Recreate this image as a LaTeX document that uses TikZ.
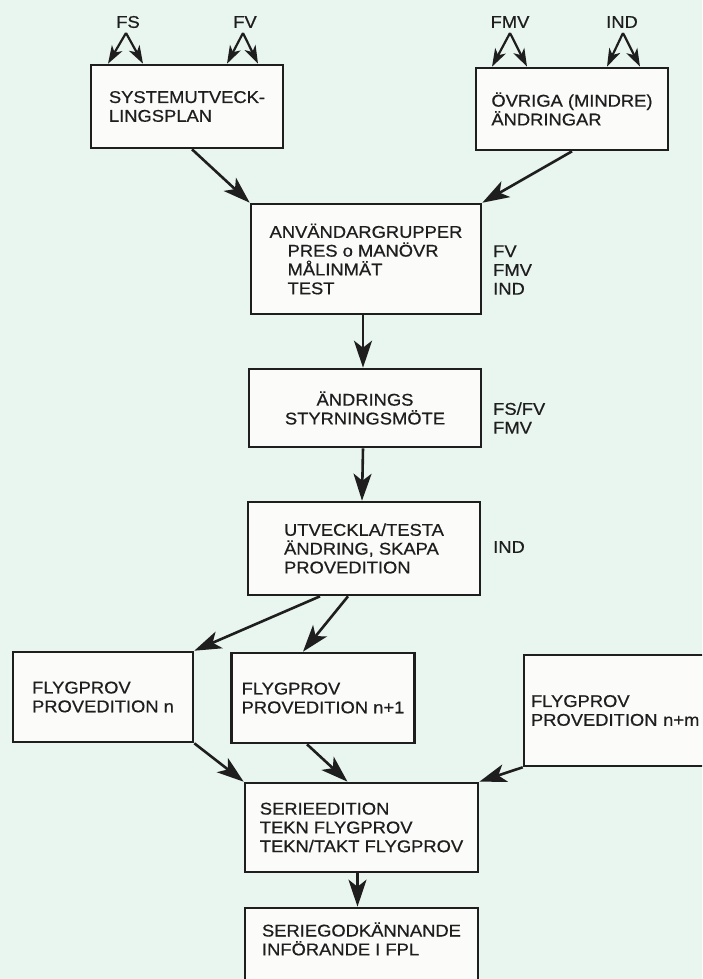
\documentclass[tikz,border=0pt]{standalone}
\usepackage{fontspec}
\setmainfont{Liberation Sans}[FakeStretch=1.08,FakeBold=0.6]
\usetikzlibrary{arrows.meta}
\definecolor{paper}{RGB}{233,245,239}
\definecolor{boxfill}{RGB}{251,252,250}
\definecolor{ink}{RGB}{30,30,30}
\begin{document}
\begin{tikzpicture}[x=1pt,y=-1pt,
    font=\fontsize{17}{18.8}\selectfont,
    box/.style={draw=ink,line width=2.6pt,fill=boxfill,text=ink,align=left,minimum height=#1},
    lbl/.style={text=ink,align=left,inner sep=0pt},
    arr/.style={ink,line width=2.6pt,-{Stealth[length=27pt,width=18pt,inset=7pt]}},
    sarr/.style={ink,line width=2.2pt,-{Stealth[length=18pt,width=12pt,inset=5pt]}}]
    \clip (0,0) rectangle (702,979);
    \fill[paper] (0,0) rectangle (702,979);

    % boxes
    \node[box=83pt,minimum width=192pt] (sysplan) at (187,106.5) {SYSTEMUTVECK-\\LINGSPLAN};
    \node[box=82pt,minimum width=192pt] (ovriga)  at (572,109)   {ÖVRIGA (MINDRE)\\ÄNDRINGAR};
    \node[box=110pt,minimum width=230pt] (anvgrp) at (366,259)   {ANVÄNDARGRUPPER\\\hspace*{18pt}PRES o MANÖVR\\\hspace*{18pt}MÅLINMÄT\\\hspace*{18pt}TEST};
    \node[box=78pt,minimum width=232pt,align=center] (andstyr) at (365,408) {ÄNDRINGS\\STYRNINGSMÖTE};
    \node[box=93pt,minimum width=232pt] (utv)     at (364,548.5) {UTVECKLA/TESTA\\ÄNDRING, SKAPA\\PROVEDITION};
    \node[box=90pt,minimum width=180pt] (fpn)     at (103,697)   {FLYGPROV\\PROVEDITION n};
    \node[box=90pt,minimum width=183pt] (fpnone)  at (323,698)   {FLYGPROV\\PROVEDITION n+1};
    \node[box=111pt,minimum width=196pt,text width=182pt,inner xsep=3pt] (fpnm) at (622,710.5) {FLYGPROV\\PROVEDITION n+m};
    \node[box=89pt,minimum width=233pt] (serie)   at (361.5,827.5) {SERIEEDITION\\TEKN FLYGPROV\\TEKN/TAKT FLYGPROV};
    \node[box=86pt,minimum width=233pt] (godk)    at (361.5,951) {SERIEGODKÄNNANDE\\INFÖRANDE I FPL\\\strut};

    % side labels
    \node[lbl,anchor=west] (grpside) at (493,270) {FV\\FMV\\IND};
    \node[lbl,anchor=west] (styrside) at (493,418) {FS/FV\\FMV};
    \node[lbl,anchor=west] (utvside) at (493,547) {IND};

    % top labels with split arrows
    \node[lbl] (fs)  at (128,22) {FS};
    \node[lbl] (fv)  at (245,22) {FV};
    \node[lbl] (fmv) at (510,22) {FMV};
    \node[lbl] (ind) at (622,22) {IND};
    \coordinate (fsa)  at (126,33);
    \coordinate (fva)  at (243,33);
    \coordinate (fmva) at (510,33);
    \coordinate (inda) at (623,33);
    \draw[sarr] (fsa) -- ([xshift=-18pt]fsa |- sysplan.north);
    \draw[sarr] (fsa) -- ([xshift=17pt]fsa |- sysplan.north);
    \draw[sarr] (fva) -- ([xshift=-16pt]fva |- sysplan.north);
    \draw[sarr] (fva) -- ([xshift=15pt]fva |- sysplan.north);
    \draw[sarr] (fmva) -- ([xshift=-18pt]fmva |- ovriga.north);
    \draw[sarr] (fmva) -- ([xshift=17pt]fmva |- ovriga.north);
    \draw[sarr] (inda) -- ([xshift=-16pt]inda |- ovriga.north);
    \draw[sarr] (inda) -- ([xshift=17pt]inda |- ovriga.north);

    % flow
    \draw[arr] ([xshift=5pt]sysplan.south) -- (anvgrp.north west);
    \draw[arr] (ovriga.south) -- (anvgrp.north east);
    \draw[arr] ([xshift=-3pt]anvgrp.south) -- ([xshift=-2pt]andstyr.north);
    \draw[arr] ([xshift=-2pt]andstyr.south) -- ([xshift=-2pt]utv.north);
    \draw[arr] ([xshift=-44pt]utv.south) -- (fpn.north east);
    \draw[arr] ([xshift=-16pt]utv.south) -- ([xshift=-20pt]fpnone.north);
    \draw[arr] (fpn.south east) -- (serie.north west);
    \draw[arr] ([xshift=-16pt]fpnone.south) -- ([xshift=-14pt]serie.north);
    \draw[arr] (fpnm.south west) -- (serie.north east);
    \draw[arr] ([xshift=-4pt]serie.south) -- ([xshift=-4pt]godk.north);
\end{tikzpicture}
\end{document}
